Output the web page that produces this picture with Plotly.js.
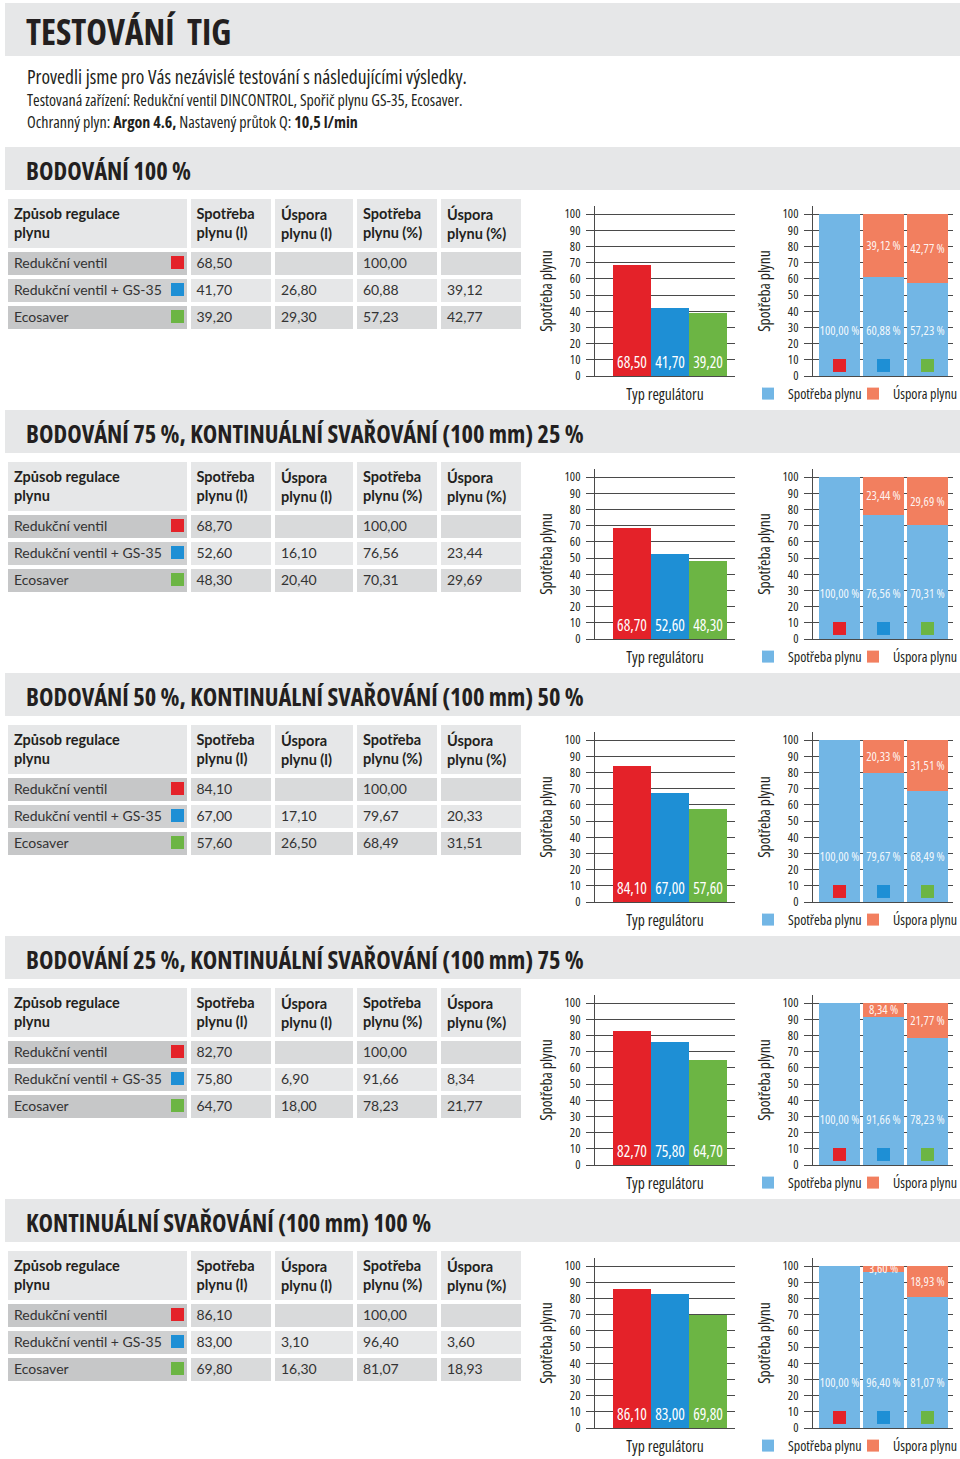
<!DOCTYPE html>
<html><head><meta charset="utf-8">
<script src="https://cdn.plot.ly/plotly-3.0.1.min.js"></script>
<style>html,body{margin:0;padding:0;background:#fff}#chart{width:960px;height:1459px}
/* condensed face of Open Sans (table font Lato has no condensed face and stays normal) */
text{font-stretch:condensed !important;}
</style>
</head><body><div id="chart"></div>
<script>
// ---------- DATA ----------
const pageTitle = 'TESTOVÁNÍ\u00A0\u00A0TIG';
const introLines = [
  'Provedli jsme pro Vás nezávislé testování s následujícími výsledky.',
  'Testovaná zařízení: Redukční ventil DINCONTROL, Spořič plynu GS-35, Ecosaver.',
  'Ochranný plyn: <b>Argon 4.6,</b> Nastavený průtok Q: <b>10,5 l/min</b>'
];
const sectionTitles = [
  'BODOVÁNÍ 100 %',
  'BODOVÁNÍ 75 %, KONTINUÁLNÍ SVAŘOVÁNÍ (100 mm) 25 %',
  'BODOVÁNÍ 50 %, KONTINUÁLNÍ SVAŘOVÁNÍ (100 mm) 50 %',
  'BODOVÁNÍ 25 %, KONTINUÁLNÍ SVAŘOVÁNÍ (100 mm) 75 %',
  'KONTINUÁLNÍ SVAŘOVÁNÍ (100 mm) 100 %'
];
const methods = ['Redukční ventil', 'Redukční ventil + GS-35', 'Ecosaver'];
const methodColors = ['#e42229', '#1e8fd5', '#6cb544'];
const tableHeaders = ['Způsob regulace<br>plynu', 'Spotřeba<br>plynu (l)', 'Úspora<br>plynu (l)', 'Spotřeba<br>plynu (%)', 'Úspora<br>plynu (%)'];
const consumptionL = [
  [68.50, 41.70, 39.20],
  [68.70, 52.60, 48.30],
  [84.10, 67.00, 57.60],
  [82.70, 75.80, 64.70],
  [86.10, 83.00, 69.80]
];
const savingL = [
  [null, 26.80, 29.30],
  [null, 16.10, 20.40],
  [null, 17.10, 26.50],
  [null, 6.90, 18.00],
  [null, 3.10, 16.30]
];
const consumptionPct = [
  [100.00, 60.88, 57.23],
  [100.00, 76.56, 70.31],
  [100.00, 79.67, 68.49],
  [100.00, 91.66, 78.23],
  [100.00, 96.40, 81.07]
];
const savingPct = [
  [null, 39.12, 42.77],
  [null, 23.44, 29.69],
  [null, 20.33, 31.51],
  [null, 8.34, 21.77],
  [null, 3.60, 18.93]
];
const yTicks = [0, 10, 20, 30, 40, 50, 60, 70, 80, 90, 100];
const barAxisTitle = 'Typ regulátoru';
const valueAxisTitle = 'Spotřeba plynu';
const seriesNames = ['Spotřeba plynu', 'Úspora plynu'];

// ---------- STYLE / GEOMETRY ----------
const W = 960, H = 1459, STEP = 263;
const NARROW = "'Open Sans', 'DejaVu Sans Condensed', sans-serif";
const TABLEFONT = "Lato, 'Noto Sans', sans-serif";
const TXT = '#231f20';
const GRID = '#4a4a4a';
const BAND = '#e6e7e8';
const CONS_COLOR = '#72b6e5';
const SAVE_COLOR = '#f27f5f';
const pctLabelY = 27;
const keyMarkerY = 6.5;
const fx = px => px / W;
const fy = py => 1 - py / H;
const fmt = v => (v == null ? '' : v.toFixed(2).replace('.', ','));

const traces = [];
const shapes = [];
const annotations = [];
const layout = {
  width: W, height: H,
  margin: {l: 0, r: 0, t: 0, b: 0, pad: 0, autoexpand: false},
  paper_bgcolor: '#ffffff', plot_bgcolor: 'rgba(0,0,0,0)',
  font: {family: NARROW, color: TXT},
  hovermode: false, dragmode: false, showlegend: true,
  barmode: 'stack'
};

// page header
shapes.push({type: 'rect', xref: 'paper', yref: 'paper', x0: fx(5), x1: fx(960), y0: fy(56), y1: fy(3),
  fillcolor: BAND, line: {width: 0}, layer: 'below'});
annotations.push({xref: 'paper', yref: 'paper', x: fx(24), y: fy(32), xanchor: 'left', yanchor: 'middle',
  text: '<b>' + pageTitle + '</b>', showarrow: false, font: {family: NARROW, size: 35, color: TXT}});
annotations.push({xref: 'paper', yref: 'paper', x: fx(25), y: fy(77), xanchor: 'left', yanchor: 'middle',
  text: introLines[0], showarrow: false, font: {family: NARROW, size: 19.5, color: TXT}});
annotations.push({xref: 'paper', yref: 'paper', x: fx(25), y: fy(100.5), xanchor: 'left', yanchor: 'middle',
  text: introLines[1], showarrow: false, font: {family: NARROW, size: 16, color: TXT}});
annotations.push({xref: 'paper', yref: 'paper', x: fx(25), y: fy(121.5), xanchor: 'left', yanchor: 'middle',
  text: introLines[2], showarrow: false, font: {family: NARROW, size: 16, color: TXT}});

for (let s = 0; s < sectionTitles.length; s++) {
  const off = s * STEP;
  const a = 3 * s + 1, b = 3 * s + 2, c = 3 * s + 3;
  const ax = n => (n === 1 ? '' : String(n));
  const legendCons = s === 0 ? 'legend' : 'legend' + (2 * s + 1);
  const legendSave = 'legend' + (2 * s + 2);

  shapes.push({type: 'rect', xref: 'paper', yref: 'paper', x0: fx(5), x1: fx(960), y0: fy(190 + off), y1: fy(147 + off),
    fillcolor: BAND, line: {width: 0}, layer: 'below'});
  annotations.push({xref: 'paper', yref: 'paper', x: fx(24), y: fy(170 + off), xanchor: 'left', yanchor: 'middle',
    text: '<b>' + sectionTitles[s] + '</b>', showarrow: false,
    font: {family: NARROW, size: 24.5, color: TXT}});

  traces.push({
    type: 'table',
    domain: {x: [fx(6), fx(523)], y: [fy(345 + off), fy(197 + off)]},
    columnwidth: [182.5, 84.5, 82, 84, 84],
    header: {
      values: tableHeaders.map(h => '<b>' + h + '</b>'),
      fill: {color: BAND}, line: {color: '#ffffff', width: 4},
      align: 'left', height: 44,
      font: {family: TABLEFONT, size: 14.5, color: TXT}
    },
    cells: {
      values: [methods, consumptionL[s].map(fmt), savingL[s].map(fmt), consumptionPct[s].map(fmt), savingPct[s].map(fmt)],
      fill: {color: [
        ['#c6c7c8', '#cfd0d1', '#c6c7c8'],
        ['#d9dadb', '#e6e7e8', '#d9dadb'],
        ['#d9dadb', '#e6e7e8', '#d9dadb'],
        ['#d9dadb', '#e6e7e8', '#d9dadb'],
        ['#d9dadb', '#e6e7e8', '#d9dadb']
      ]},
      line: {color: '#ffffff', width: 4},
      align: 'left', height: 27,
      font: {family: TABLEFONT, size: 14, color: '#333333'}
    }
  });

  traces.push({type: 'scatter', mode: 'markers', x: methods.map(() => 0), y: methods.map((m, i) => i),
    marker: {opacity: 0}, showlegend: false, hoverinfo: 'skip',
    xaxis: 'x' + ax(c), yaxis: 'y' + ax(c)});
  layout['xaxis' + ax(c)] = {domain: [fx(171), fx(184)], range: [-1, 1], visible: false, fixedrange: true, anchor: 'y' + ax(c)};
  layout['yaxis' + ax(c)] = {domain: [fy(330 + off), fy(249 + off)], range: [2.5, -0.5], visible: false, fixedrange: true, anchor: 'x' + ax(c)};
  methods.forEach((m, i) => {
    shapes.push({type: 'rect', xref: 'x' + ax(c), yref: 'y' + ax(c), xsizemode: 'pixel', ysizemode: 'pixel',
      xanchor: 0, yanchor: i, x0: -6.5, x1: 6.5, y0: -6.5, y1: 6.5,
      fillcolor: methodColors[i], line: {width: 0}, layer: 'above'});
  });

  const zero = 376 + off, top100 = 214 + off, axTop = 206 + off;
  const yTop = 100 * (zero - axTop) / (zero - top100);
  const yAxisBase = {
    range: [0, yTop], tickvals: yTicks, ticktext: yTicks.map(String),
    ticks: 'outside', ticklen: 8, tickwidth: 1, tickcolor: GRID,
    showgrid: true, gridcolor: GRID, gridwidth: 1, zeroline: false,
    showline: true, linecolor: GRID, linewidth: 1,
    tickfont: {family: NARROW, size: 12.5, color: TXT}, ticklabelstandoff: 3,
    title: {text: valueAxisTitle, font: {family: NARROW, size: 15.5, color: TXT}, standoff: 8},
    fixedrange: true
  };

  traces.push({
    type: 'bar', x: methods, y: consumptionL[s], width: 1,
    marker: {color: methodColors, line: {width: 0}},
    text: consumptionL[s].map(fmt), textposition: 'inside', insidetextanchor: 'start',
    textangle: 0, constraintext: 'none',
    textfont: {family: NARROW, size: 15.5, color: '#ffffff'},
    showlegend: false, hoverinfo: 'skip', cliponaxis: false,
    xaxis: 'x' + ax(a), yaxis: 'y' + ax(a)
  });
  layout['xaxis' + ax(a)] = {
    domain: [fx(595), fx(735)], anchor: 'y' + ax(a), type: 'category', range: [-0.974, 2.71],
    showticklabels: false, ticks: '', showgrid: false, zeroline: false,
    showline: true, linecolor: GRID, linewidth: 1, fixedrange: true,
    title: {text: barAxisTitle, font: {family: NARROW, size: 15.5, color: TXT}, standoff: 13}
  };
  layout['yaxis' + ax(a)] = Object.assign({}, yAxisBase, {domain: [fy(zero), fy(axTop)], anchor: 'x' + ax(a)});

  traces.push({
    type: 'bar', name: seriesNames[0], x: methods, y: consumptionPct[s], width: 41 / 44,
    marker: {color: CONS_COLOR, line: {width: 0}}, legend: legendCons, hoverinfo: 'skip',
    xaxis: 'x' + ax(b), yaxis: 'y' + ax(b)
  });
  traces.push({
    type: 'bar', name: seriesNames[1], x: methods, y: savingPct[s], width: 41 / 44,
    marker: {color: SAVE_COLOR, line: {width: 0}}, legend: legendSave, hoverinfo: 'skip',
    text: savingPct[s].map(v => (v == null ? '' : fmt(v) + ' %')),
    textposition: 'inside', insidetextanchor: 'middle', textangle: 0, constraintext: 'none',
    textfont: {family: NARROW, size: 12.5, color: 'rgba(255,255,255,0.92)'},
    xaxis: 'x' + ax(b), yaxis: 'y' + ax(b)
  });
  traces.push({
    type: 'scatter', mode: 'text', x: methods, y: methods.map(() => pctLabelY),
    text: consumptionPct[s].map(v => fmt(v) + ' %'),
    textfont: {family: NARROW, size: 12.5, color: 'rgba(255,255,255,0.92)'},
    showlegend: false, hoverinfo: 'skip', cliponaxis: false,
    xaxis: 'x' + ax(b), yaxis: 'y' + ax(b)
  });
  traces.push({
    type: 'scatter', mode: 'markers', x: methods, y: methods.map(() => keyMarkerY),
    marker: {symbol: 'square', size: 13, color: methodColors, line: {width: 0}},
    showlegend: false, hoverinfo: 'skip',
    xaxis: 'x' + ax(b), yaxis: 'y' + ax(b)
  });
  layout['xaxis' + ax(b)] = {
    domain: [fx(813), fx(953)], anchor: 'y' + ax(b), type: 'category', range: [-0.602, 2.58],
    showticklabels: false, ticks: '', showgrid: false, zeroline: false,
    showline: true, linecolor: GRID, linewidth: 1, fixedrange: true
  };
  layout['yaxis' + ax(b)] = Object.assign({}, yAxisBase, {domain: [fy(zero), fy(axTop)], anchor: 'x' + ax(b)});

  const legendBase = {
    orientation: 'h', y: fy(394 + off), xanchor: 'left', yanchor: 'middle',
    font: {family: NARROW, size: 14, color: TXT}, bgcolor: 'rgba(0,0,0,0)',
    itemclick: false, itemdoubleclick: false
  };
  layout[legendCons] = Object.assign({}, legendBase, {x: fx(748)});
  layout[legendSave] = Object.assign({}, legendBase, {x: fx(853)});
}

layout.shapes = shapes;
layout.annotations = annotations;

Plotly.newPlot('chart', traces, layout, {staticPlot: true, displayModeBar: false});
</script>
</body></html>
